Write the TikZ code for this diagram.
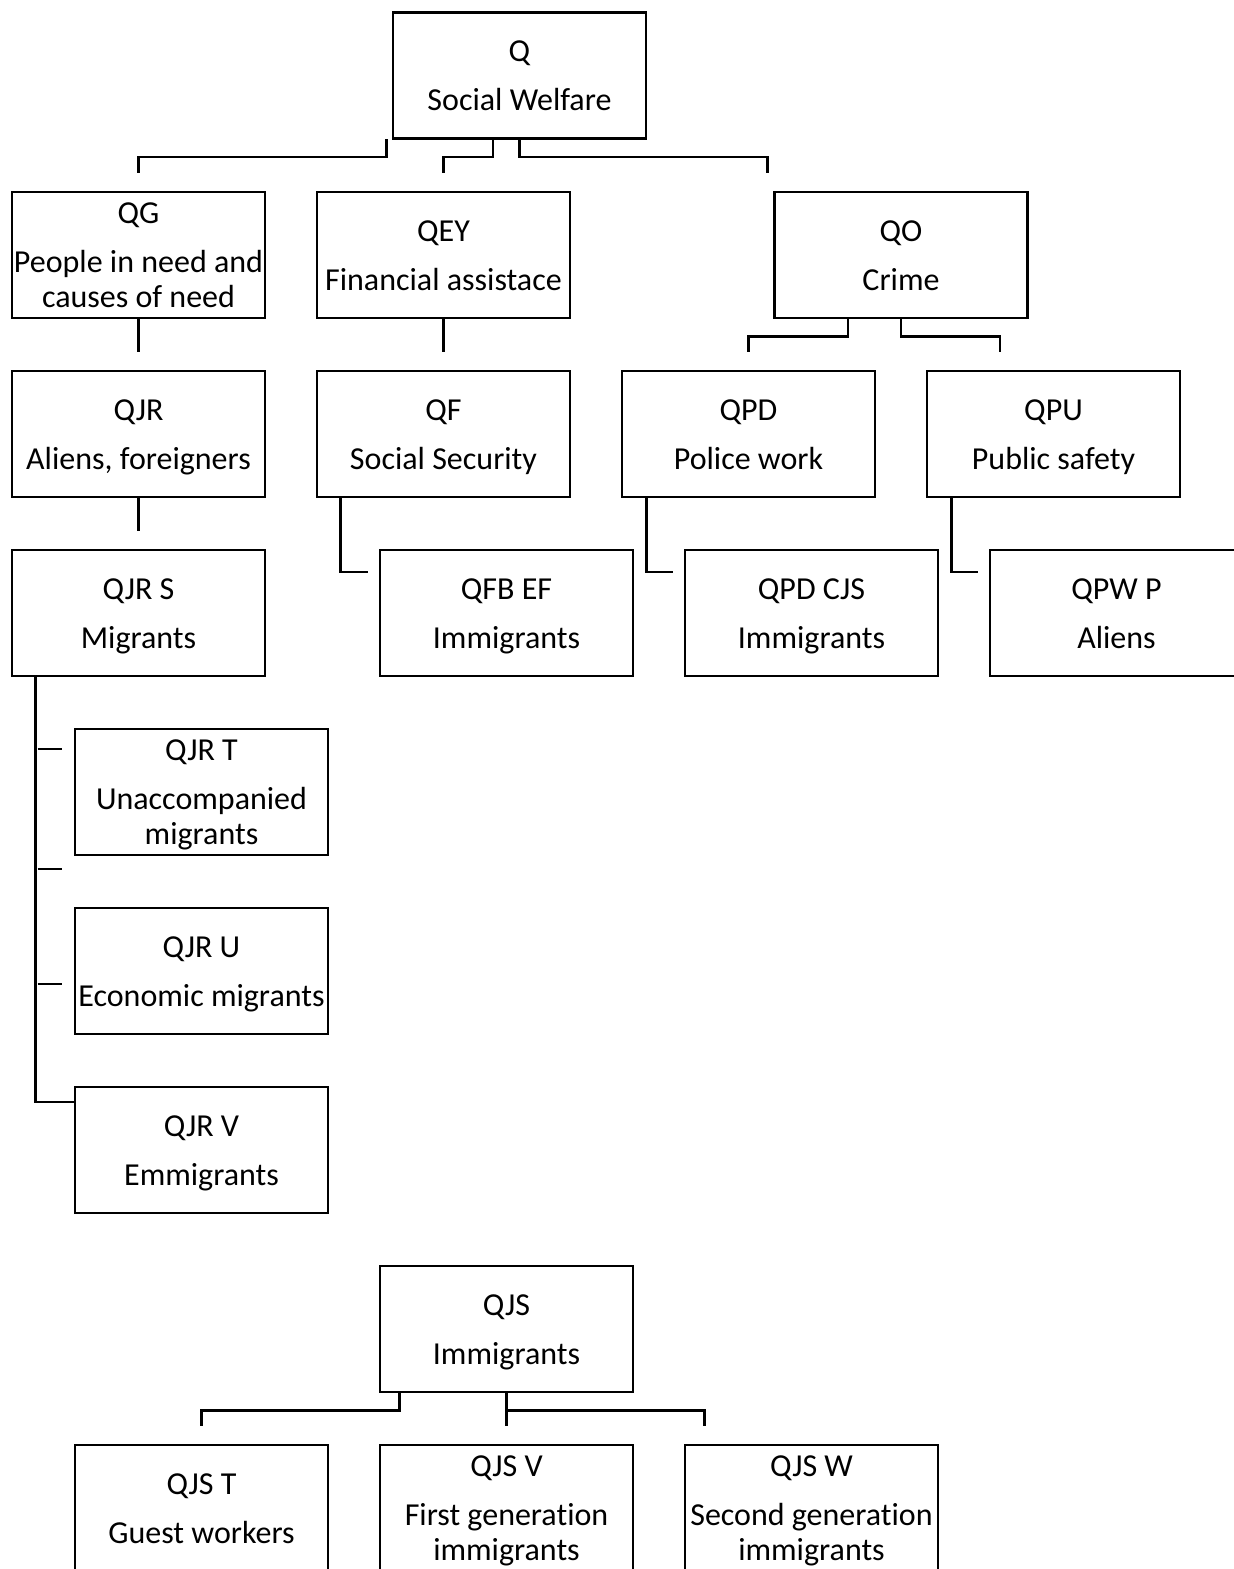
\documentclass[tikz,border=0pt]{standalone}
\usepackage{fontspec}
\setmainfont[RawFeature={-liga}]{Carlito}
\newcommand\topstrut{\rule{0pt}{27pt}}
\begin{document}
\begin{tikzpicture}[x=1pt,y=-1pt,
  box/.style={draw, line width=2.6pt, minimum width=253pt, minimum height=126pt, inner sep=0pt, align=center, font=\fontsize{32}{35}\selectfont,
    execute at end node={\rule[-6pt]{0pt}{6pt}}},
  conn/.style={line width=2.6pt, line cap=rect}]
\fill[white] (0,0) rectangle (1234,1569);
\useasboundingbox (0,0) rectangle (1234,1569);
% nodes
\node[box] (Q) at (519.5,75.5) {\topstrut Q\\[14pt]Social Welfare};
\node[box] (QG) at (138.5,255) {\topstrut QG\\[14pt]People in need and\\causes of need};
\node[box] (QEY) at (443.5,255) {\topstrut QEY\\[14pt]Financial assistace};
\node[box] (QO) at (901,255) {\topstrut QO\\[14pt]Crime};
\node[box] (QJR) at (138.5,434) {\topstrut QJR\\[14pt]Aliens, foreigners};
\node[box] (QF) at (443.5,434) {\topstrut QF\\[14pt]Social Security};
\node[box] (QPD) at (748.5,434) {\topstrut QPD\\[14pt]Police work};
\node[box] (QPU) at (1053.5,434) {\topstrut QPU\\[14pt]Public safety};
\node[box] (QJRS) at (138.5,613) {\topstrut QJR S\\[14pt]Migrants};
\node[box] (QFBEF) at (506.5,613) {\topstrut QFB EF\\[14pt]Immigrants};
\node[box] (QPDCJS) at (811.5,613) {\topstrut QPD CJS\\[14pt]Immigrants};
\node[box] (QPWP) at (1116.5,613) {\topstrut QPW P\\[14pt]Aliens};
\node[box] (QJRT) at (201.5,792) {\topstrut QJR T\\[14pt]Unaccompanied\\migrants};
\node[box] (QJRU) at (201.5,971) {\topstrut QJR U\\[14pt]Economic migrants};
\node[box] (QJRV) at (201.5,1150) {\topstrut QJR V\\[14pt]Emmigrants};
\node[box] (QJS) at (506.5,1329) {\topstrut QJS\\[14pt]Immigrants};
\node[box] (QJST) at (201.5,1508) {\topstrut QJS T\\[14pt]Guest workers};
\node[box] (QJSV) at (506.5,1508) {\topstrut QJS V\\[14pt]First generation\\immigrants};
\node[box] (QJSW) at (811.5,1508) {\topstrut QJS W\\[14pt]Second generation\\immigrants};
% connectors from Q
\draw[conn] ([xshift=-5pt]Q.south west) -- ++(0,17) -| ([yshift=19pt]QG.north);
\draw[conn] ([xshift=-26.5pt]Q.south) -- ++(0,17) -| ([yshift=19pt]QEY.north);
\draw[conn] (Q.south) -- ++(0,17) -| ([xshift=-6pt,yshift=19pt]QO.north west);
% second row
\draw[conn] (QG.south) -- ([yshift=19pt]QJR.north);
\draw[conn] (QEY.south) -- ([yshift=19pt]QF.north);
\draw[conn] ([xshift=-53pt]QO.south) -- ++(0,17) -| ([yshift=19pt]QPD.north);
\draw[conn] (QO.south) -- ++(0,17) -| ([xshift=-53.5pt,yshift=19pt]QPU.north);
% third row
\draw[conn] (QJR.south) -- ([yshift=19pt]QJRS.north);
\draw[conn] ([xshift=25pt]QF.south west) |- ([xshift=-12pt,yshift=41pt]QFBEF.west);
\draw[conn] ([xshift=26pt]QPD.south west) |- ([xshift=-12pt,yshift=41pt]QPDCJS.west);
\draw[conn] ([xshift=26pt]QPU.south west) |- ([xshift=-12pt,yshift=41pt]QPWP.west);
% QJR S branch
\draw[conn] ([xshift=25pt]QJRS.south west) |- ([yshift=48pt]QJRV.west);
\coordinate (t1a) at (37.5,749); \coordinate (t1b) at (62,749);
\coordinate (t2a) at (37.5,869); \coordinate (t2b) at (62,869);
\coordinate (t3a) at (37.5,984); \coordinate (t3b) at (62,984);
\draw[line width=2.6pt] (t1a) -- (t1b);
\draw[line width=2.6pt] (t2a) -- (t2b);
\draw[line width=2.6pt] (t3a) -- (t3b);
% QJS
\draw[conn] ([xshift=21pt]QJS.south west) -- ++(0,17) -| ([yshift=19pt]QJST.north);
\draw[conn] (QJS.south) -- ([yshift=19pt]QJSV.north);
\draw[conn] ([yshift=-17pt]QJS.south) -| ([xshift=21pt,yshift=19pt]QJSW.north west);
\end{tikzpicture}
\end{document}
